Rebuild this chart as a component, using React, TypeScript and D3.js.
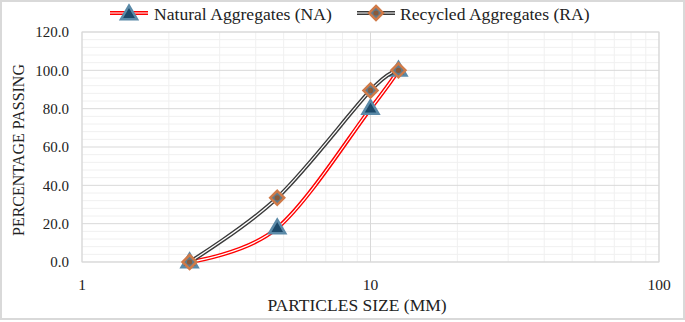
import React from "react";
import * as d3 from "d3";

const sizesNA = [2.36, 4.75, 10, 12.5];
const passingNA = [0, 17.7, 80, 100];
const sizesRA = [2.36, 4.75, 10, 12.5];
const passingRA = [0, 33.5, 89.5, 100];
const yTicks = [0, 20, 40, 60, 80, 100, 120];
const xTicks = [1, 10, 100];
const seriesNames = ["Natural Aggregates (NA)", "Recycled Aggregates (RA)"];

const W = 685, H = 322;
const L = 82, R = 659, T = 32, B = 262;
const FONT = "'Liberation Serif', 'Times New Roman', serif";

function Triangle({ x, y }: { x: number; y: number }) {
  const s = 8;
  const p = `M${x},${y - s * 1.05} L${x + s},${y + s * 0.65} L${x - s},${y + s * 0.65} Z`;
  return <path d={p} fill="#1d4a6a" stroke="#5b8aa8" strokeWidth={2.5} strokeLinejoin="miter" />;
}
function Diamond({ x, y }: { x: number; y: number }) {
  const s = 7;
  const p = `M${x},${y - s} L${x + s},${y} L${x},${y + s} L${x - s},${y} Z`;
  return (
    <g>
      <path d={p} fill="#5f7b8c" stroke="#d07a48" strokeWidth={2.5} />
      <circle cx={x} cy={y} r={2.6} fill="#8a5a3a" />
    </g>
  );
}

export default function App() {
  const x = d3.scaleLog().domain([1, 100]).range([L, R]);
  const y = d3.scaleLinear().domain([0, 120]).range([B, T]);
  const line = d3
    .line<[number, number]>()
    .x((d) => x(d[0]))
    .y((d) => y(d[1]))
    .curve(d3.curveCatmullRom.alpha(0));
  const na = sizesNA.map((s, i) => [s, passingNA[i]] as [number, number]);
  const ra = sizesRA.map((s, i) => [s, passingRA[i]] as [number, number]);

  const minorX: number[] = [];
  for (const dec of [1, 10]) for (let k = 2; k <= 9; k++) minorX.push(dec * k);
  const minorY: number[] = [];
  for (let v = 0; v <= 120; v += 4) if (v % 20 !== 0) minorY.push(v);

  return (
    <svg width={W} height={H} style={{ position: "absolute", left: 0, top: 0, background: "#fff" }} fontFamily={FONT}>
      <rect x={1} y={1} width={W - 2} height={H - 4} fill="#fff" stroke="#d9d9d9" strokeWidth={2} />
      {minorY.map((v) => (
        <line key={"my" + v} x1={L} x2={R} y1={y(v)} y2={y(v)} stroke="#f0f0f0" strokeWidth={1} />
      ))}
      {minorX.map((v) => (
        <line key={"mx" + v} x1={x(v)} x2={x(v)} y1={T} y2={B} stroke="#f0f0f0" strokeWidth={1} />
      ))}
      {yTicks.map((v) => (
        <line key={"gy" + v} x1={L} x2={R} y1={y(v)} y2={y(v)} stroke="#d9d9d9" strokeWidth={1} />
      ))}
      {xTicks.map((v) => (
        <line key={"gx" + v} x1={x(v)} x2={x(v)} y1={T} y2={B} stroke="#d9d9d9" strokeWidth={1} />
      ))}
      <rect x={L} y={T} width={R - L} height={B - T} fill="none" stroke="#d9d9d9" strokeWidth={1} />

      {yTicks.map((v) => (
        <text key={"ty" + v} x={69} y={y(v)} dy="0.35em" textAnchor="end" fontSize={15} fill="#222">
          {v.toFixed(1)}
        </text>
      ))}
      {xTicks.map((v) => (
        <text key={"tx" + v} x={x(v)} y={285} dy="0.35em" textAnchor="middle" fontSize={15.5} fill="#222">
          {v}
        </text>
      ))}
      <text x={357} y={305} dy="0.35em" textAnchor="middle" fontSize={17.5} fill="#222">
        PARTICLES SIZE (MM)
      </text>
      <text transform={`translate(18,${(T + B) / 2 + 3}) rotate(-90)`} dy="0.35em" textAnchor="middle" fontSize={16} fill="#222">
        PERCENTAGE PASSING
      </text>

      <path d={line(na) || ""} fill="none" stroke="#ff0000" strokeWidth={4} />
      <path d={line(na) || ""} fill="none" stroke="#fff" strokeWidth={1.2} />
      {na.map((d, i) => (
        <Triangle key={"na" + i} x={x(d[0])} y={y(d[1])} />
      ))}
      <path d={line(ra) || ""} fill="none" stroke="#3a3a3a" strokeWidth={4} />
      <path d={line(ra) || ""} fill="none" stroke="#fff" strokeWidth={1.2} />
      {ra.map((d, i) => (
        <Diamond key={"ra" + i} x={x(d[0])} y={y(d[1])} />
      ))}

      <g>
        <line x1={110} x2={148} y1={13} y2={13} stroke="#ff0000" strokeWidth={4} />
        <line x1={110} x2={148} y1={13} y2={13} stroke="#fff" strokeWidth={1.2} />
        <Triangle x={129} y={14} />
        <text x={154} y={14} dy="0.35em" fontSize={17.6} fill="#222">{seriesNames[0]}</text>
        <line x1={357} x2={395} y1={13} y2={13} stroke="#3a3a3a" strokeWidth={4} />
        <line x1={357} x2={395} y1={13} y2={13} stroke="#fff" strokeWidth={1.2} />
        <Diamond x={376} y={13} />
        <text x={400} y={14} dy="0.35em" fontSize={17.6} fill="#222">{seriesNames[1]}</text>
      </g>
    </svg>
  );
}
